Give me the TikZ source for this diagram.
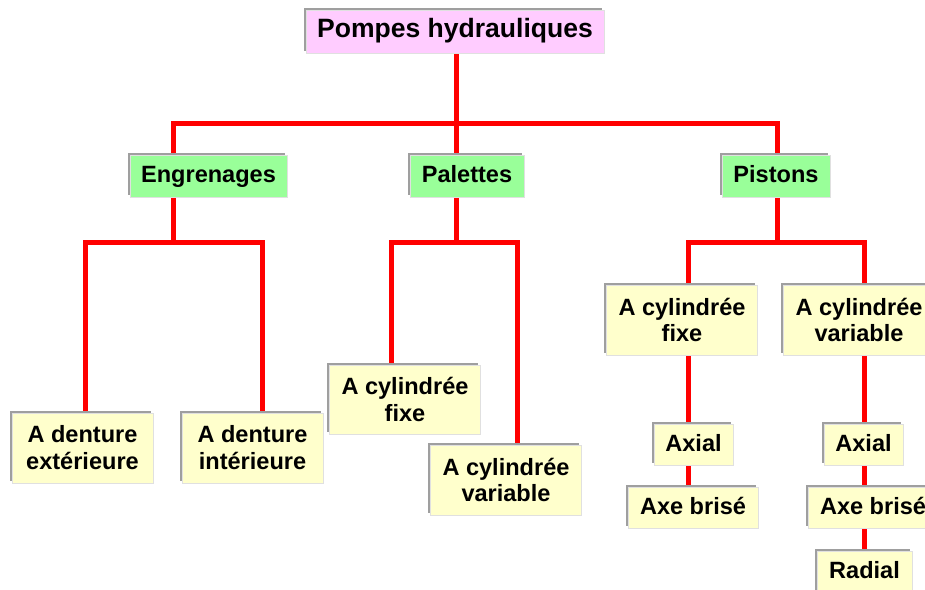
\documentclass[tikz,border=0pt]{standalone}
\usepackage{fontspec}
\setmainfont{Liberation Sans}
\usepackage{tikz}
\usetikzlibrary{shadows, backgrounds}
\definecolor{titlepink}{RGB}{255, 204, 255}
\definecolor{familygreen}{RGB}{153, 255, 153}
\definecolor{leafcream}{RGB}{255, 255, 204}
\definecolor{linkred}{RGB}{255, 0, 0}

\begin{document}
\begin{tikzpicture}[
    x=0.02cm, y=-0.02cm,
    box/.style     = {rectangle, inner sep=0pt, align=center,
                      draw=black!12, line width=0.4pt,
                      font=\bfseries\fontsize{13.4pt}{15.3pt}\selectfont,
                      general shadow={fill=gray!75, shadow xshift=-0.045cm,
                                      shadow yshift=0.045cm}},
    pump/.style    = {box, fill=titlepink, minimum width=298*0.02cm,
                      minimum height=43*0.02cm, text height=1.6ex, text depth=0.35ex,
                      font=\bfseries\fontsize{15.1pt}{18pt}\selectfont},
    family/.style  = {box, fill=familygreen, minimum height=42*0.02cm,
                      text height=1.6ex, text depth=0.2ex},
    variant/.style = {box, fill=leafcream},
    twoline/.style = {variant, minimum width=151*0.02cm, minimum height=70*0.02cm},
    oneline/.style = {variant, minimum height=41*0.02cm,
                      text height=1.6ex, text depth=0.2ex},
    link/.style    = {linkred, line width=0.1cm},
  ]
  \useasboundingbox (0,0) rectangle (925,589);
  \clip (0,0) rectangle (925,589);

  %% Root
  \node[pump] (title) at (455,31.5) {Pompes hydrauliques};

  %% Families
  \node[family, minimum width=157*0.02cm] (eng) at (208.5,176) {Engrenages};
  \node[family, minimum width=114*0.02cm] (pal) at (467,176)   {Palettes};
  \node[family, minimum width=108*0.02cm] (pis) at (776,176)   {Pistons};

  %% Gear pumps
  \node[twoline, minimum width=141*0.02cm] (dext) at (82.5,448)  {A denture\\extérieure};
  \node[twoline, minimum width=141*0.02cm] (dint) at (252.5,448) {A denture\\intérieure};

  %% Vane pumps
  \node[twoline, minimum height=69*0.02cm] (pfix) at (405,399.5) {A cylindrée\\fixe};
  \node[twoline] (pvar) at (506,480) {A cylindrée\\variable};

  %% Piston pumps
  \node[twoline] (cfix) at (682,320) {A cylindrée\\fixe};
  \node[twoline] (cvar) at (859,320) {A cylindrée\\variable};
  \node[oneline, minimum width=79*0.02cm]  (ax1)  at (693.5,444.5) {Axial};
  \node[oneline, minimum width=130*0.02cm] (ab1)  at (693,507.5)   {Axe brisé};
  \node[oneline, minimum width=79*0.02cm]  (ax2)  at (863.5,444.5) {Axial};
  \node[oneline, minimum width=130*0.02cm] (ab2)  at (873,507.5)   {Axe brisé};
  \node[oneline, minimum width=95*0.02cm]  (rad)  at (864.5,571.5) {Radial};

  %% Branch positions
  \coordinate (xe)  at (173,0);  \coordinate (xp)  at (456,0);
  \coordinate (xs)  at (777,0);  \coordinate (xde) at (85,0);
  \coordinate (xdi) at (262,0);  \coordinate (xpf) at (391,0);
  \coordinate (xpv) at (517,0);  \coordinate (xcf) at (688,0);
  \coordinate (xcv) at (864,0);
  \coordinate (h0)  at (0,123);  \coordinate (h1)  at (0,242);

  %% Connectors
  \begin{scope}[on background layer]
    \draw[link] (xp |- title.south) -- (xp |- pal.north);
    \draw[link] (xe |- eng.north) |- (xs |- h0) -- (xs |- pis.north);

    \draw[link] (xe |- eng.south) -- (xe |- h1);
    \draw[link] (xde |- dext.north) |- (xdi |- h1) -- (xdi |- dint.north);

    \draw[link] (xp |- pal.south) -- (xp |- h1);
    \draw[link] (xpf |- pfix.north) |- (xpv |- h1) -- (xpv |- pvar.north);

    \draw[link] (xs |- pis.south) -- (xs |- h1);
    \draw[link] (xcf |- cfix.north) |- (xcv |- h1) -- (xcv |- cvar.north);

    \draw[link] (xcf |- cfix.south) -- (xcf |- ax1.north);
    \draw[link] (xcf |- ax1.south)  -- (xcf |- ab1.north);
    \draw[link] (xcv |- cvar.south) -- (xcv |- ax2.north);
    \draw[link] (xcv |- ax2.south)  -- (xcv |- ab2.north);
    \draw[link] (xcv |- ab2.south)  -- (xcv |- rad.north);
  \end{scope}

\end{tikzpicture}
\end{document}
